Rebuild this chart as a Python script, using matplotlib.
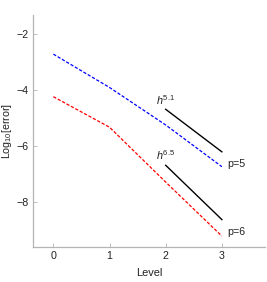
import matplotlib
matplotlib.use("Agg")
import matplotlib.pyplot as plt

plt.rcParams['font.family'] = ['Liberation Sans', 'DejaVu Sans']
plt.rcParams['mathtext.fontset'] = 'custom'
plt.rcParams['mathtext.rm'] = 'Liberation Sans'
plt.rcParams['mathtext.it'] = 'Liberation Sans:italic'

levels = [0, 1, 2, 3]
err_p5 = [-2.72, -3.91, -5.25, -6.74]
err_p6 = [-4.24, -5.33, -7.29, -9.22]

ref_x = [2, 3]
ref_p5 = [-4.69, -6.21]
ref_p6 = [-6.69, -8.63]
ref_labels = ["$h^{5.1}$", "$h^{6.5}$"]
ref_label_y = [-4.36, -6.32]
series_labels = ["p=5", "p=6"]
series_label_y = [-6.63, -9.07]

xticks = [0, 1, 2, 3]
yticks = [-2, -4, -6, -8]

fig = plt.figure(figsize=(2.67, 2.82), dpi=100)
ax = fig.add_axes([0.124, 0.125, 0.869, 0.822])

ds = (0, (2.6, 1.4))
ax.plot(levels, err_p5, color=(0, 0, 1), lw=0.9, linestyle=ds)
ax.plot(levels, err_p6, color=(1, 0, 0), lw=0.9, linestyle=ds)
ax.plot(ref_x, ref_p5, color='black', lw=1.0)
ax.plot(ref_x, ref_p6, color='black', lw=1.0)

for lab, y in zip(ref_labels, ref_label_y):
    ax.text(1.99, y, lab, fontsize=7.8, ha='center', va='center', color='#222222')
for lab, y in zip(series_labels, series_label_y):
    ax.text(3.09, y, lab, fontsize=7.7, ha='left', va='center', color='#222222')

ax.set_xlim(-0.36, 3.77)
ax.set_ylim(-9.6, -1.32)
ax.set_xticks(xticks)
ax.set_yticks(yticks)
ax.set_yticklabels(["\u2212%d" % abs(v) for v in yticks])

for s in ['top', 'right']:
    ax.spines[s].set_visible(False)
for s in ['left', 'bottom']:
    ax.spines[s].set_color('#b4b4b4')
    ax.spines[s].set_linewidth(0.9)
ax.tick_params(direction='in', length=3, width=0.6, color='#b4b4b4',
               labelsize=7.7, labelcolor='#222222', pad=3)

ax.set_xlabel("Level", fontsize=7.9, color='#222222', labelpad=5)
ax.set_ylabel("Log$_{10}$[error]", fontsize=7.7, color='#222222', labelpad=2)

fig.savefig("out.png", dpi=100)
